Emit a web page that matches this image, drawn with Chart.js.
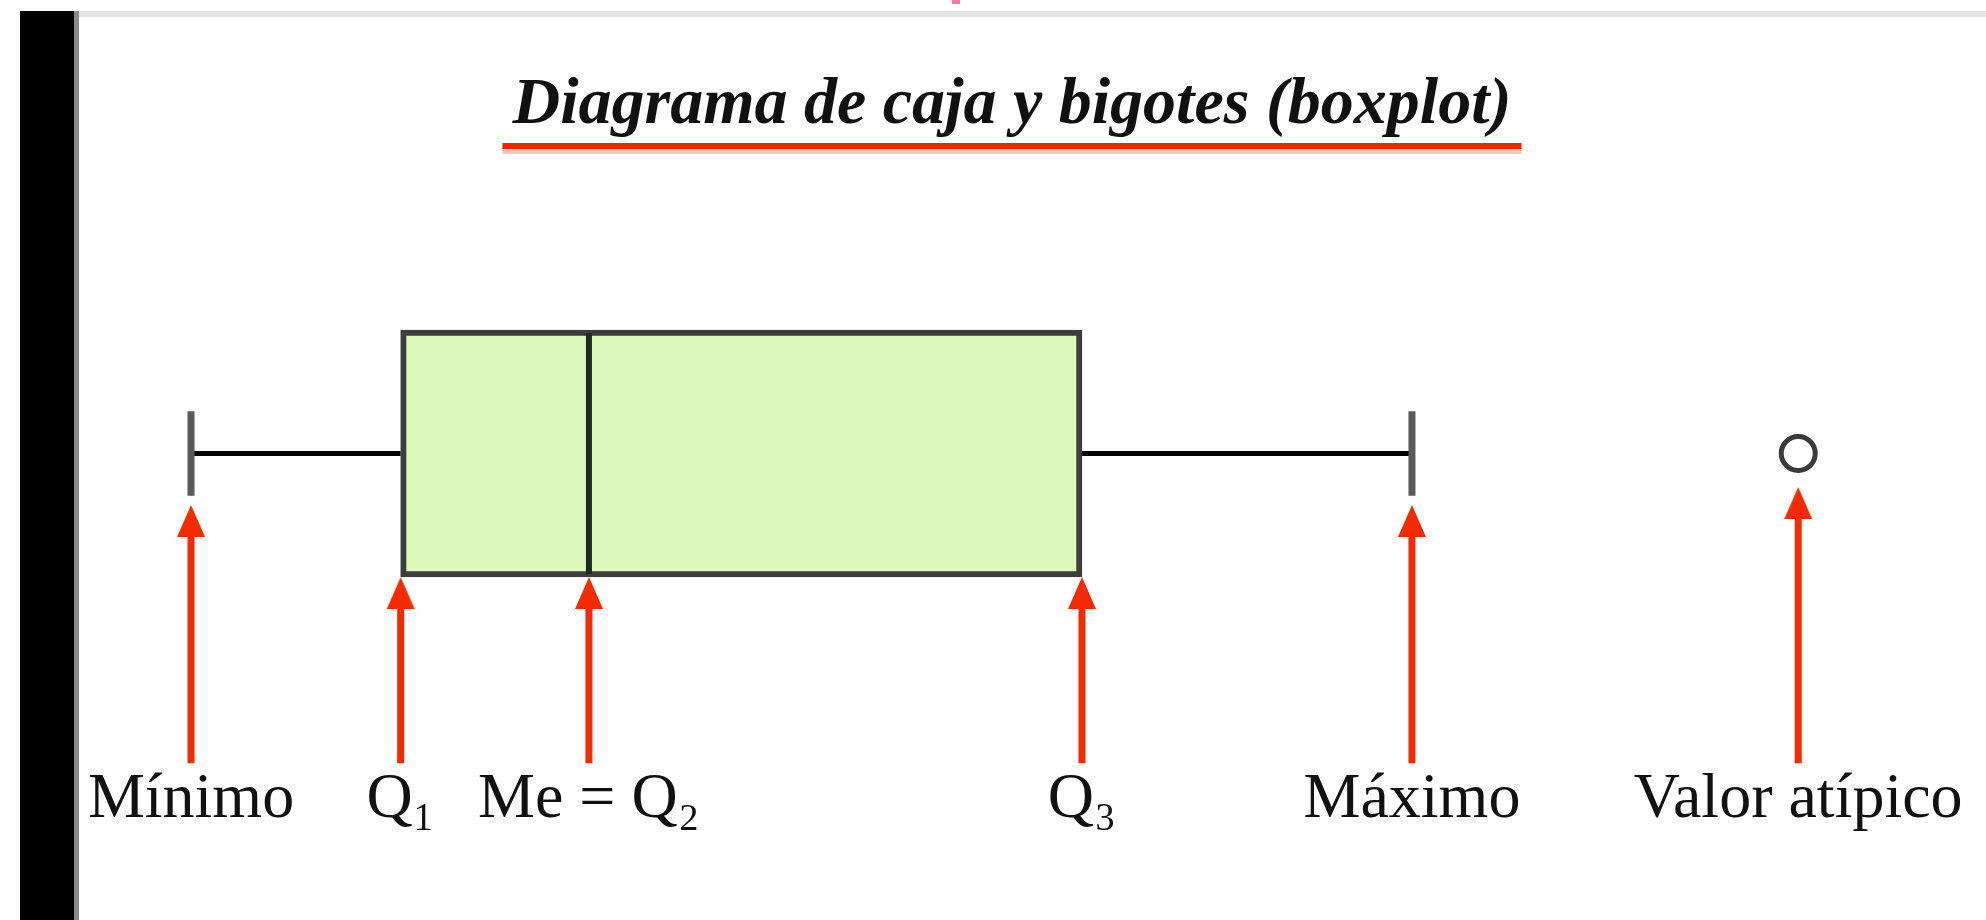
<!DOCTYPE html>
<html>
<head>
<meta charset="utf-8">
<script src="https://cdn.jsdelivr.net/npm/chart.js@4/dist/chart.umd.min.js"></script>
<style>
html,body{margin:0;padding:0;background:#fff;}
#wrap{position:relative;width:1986px;height:920px;overflow:hidden;background:#fff;}
#chart{position:absolute;left:0;top:0;}
.frameL{position:absolute;left:20px;top:11px;width:54px;height:909px;background:#000;}
.frameG{position:absolute;left:74px;top:11px;width:5px;height:909px;background:#8a8a8a;}
.frameT{position:absolute;left:79px;top:11px;right:0;height:6px;background:#e3e3e3;}
.pink{position:absolute;left:952px;top:0;width:8px;height:4px;background:#f07aa0;}
</style>
</head>
<body>
<div id="wrap">
  <canvas id="chart" width="1986" height="920"></canvas>
  <div class="frameL"></div>
  <div class="frameG"></div>
  <div class="frameT"></div>
  <div class="pink"></div>
</div>
<script>
// ---- data ----
const titleText = 'Diagrama de caja y bigotes (boxplot)';
const tickLabels = ['Mínimo', 'Q₁', 'Me = Q₂', 'Q₃', 'Máximo', 'Valor atípico'];
const summaryValues = [5.1, 15.9, 25.6, 51.0, 68.0]; // mínimo, Q1, mediana, Q3, máximo
const outlierValues = [87.9];

const [vMin, vQ1, vMe, vQ3, vMax] = summaryValues;
const markValues = summaryValues.concat(outlierValues);

// ---- vertical levels (axis units, box spans -1..1) ----
const CAP = 0.35;
const TIP_WHISKER = -0.427, TIP_BOX = -1.025, TIP_OUT = -0.278, ARROW_BASE = -2.57;
const tipLevels = [TIP_WHISKER, TIP_BOX, TIP_BOX, TIP_BOX, TIP_WHISKER, TIP_OUT];

const RED = '#f42a00';

function makeHead(w, h) {
  const c = document.createElement('canvas');
  c.width = w; c.height = 2 * h;
  const g = c.getContext('2d');
  g.fillStyle = RED;
  g.beginPath();
  g.moveTo(w / 2, h);
  g.lineTo(w, 2 * h);
  g.lineTo(0, 2 * h);
  g.closePath();
  g.fill();
  return c;
}
const head = makeHead(28, 32);

const shaftData = [];
markValues.forEach((v, i) => {
  shaftData.push({x: v, y: tipLevels[i] - 0.2});
  shaftData.push({x: v, y: ARROW_BASE});
  shaftData.push({x: v, y: null});
});
const headData = markValues.map((v, i) => ({x: v, y: tipLevels[i]}));

const lineBase = {type: 'line', showLine: true, fill: false, tension: 0, pointRadius: 0, spanGaps: false, clip: false, order: 0};

const underline = {
  id: 'underline',
  afterDraw(chart) {
    const tb = chart.titleBlock;
    const ctx = chart.ctx;
    ctx.save();
    ctx.font = 'italic bold 66px "Liberation Serif"';
    const w = ctx.measureText(titleText).width;
    const cx = (tb.left + tb.right) / 2;
    const mid = tb.top + 66.4 + 39.6;
    ctx.fillStyle = '#f22300';
    ctx.fillRect(cx - w / 2 - 10, mid + 37, w + 20, 6);
    ctx.fillStyle = '#f8c4bc';
    ctx.fillRect(cx - w / 2 - 10, mid + 43, w + 20, 5);
    ctx.restore();
  }
};

new Chart(document.getElementById('chart'), {
  type: 'scatter',
  data: {
    datasets: [
      {
        type: 'bar', indexAxis: 'y',
        data: [{x: [vQ1, vQ3], y: 0}],
        backgroundColor: '#dcf8bb', borderColor: '#3d3d3d', borderWidth: 6,
        borderSkipped: false, barThickness: 247, order: 10
      },
      Object.assign({}, lineBase, {
        data: [{x: vMin, y: 0}, {x: vQ1, y: 0}, {x: vMe, y: null}, {x: vQ3, y: 0}, {x: vMax, y: 0}],
        borderColor: '#000', borderWidth: 5, order: 11
      }),
      Object.assign({}, lineBase, {
        data: [{x: vMin, y: -CAP}, {x: vMin, y: CAP}, {x: vMin, y: null}, {x: vMax, y: -CAP}, {x: vMax, y: CAP}],
        borderColor: '#5a5a5a', borderWidth: 7
      }),
      Object.assign({}, lineBase, {
        data: [{x: vMe, y: -1.0}, {x: vMe, y: 1.0}],
        borderColor: '#1f2a1f', borderWidth: 6
      }),
      Object.assign({}, lineBase, {
        data: shaftData, borderColor: RED, borderWidth: 7
      }),
      {
        type: 'scatter', data: headData, pointStyle: head, pointRadius: 10,
        backgroundColor: RED, borderColor: RED, clip: false
      },
      {
        type: 'scatter', data: outlierValues.map(v => ({x: v, y: 0})),
        pointStyle: 'circle', pointRadius: 17, borderWidth: 5,
        borderColor: '#3a3a3a', backgroundColor: '#fff', clip: false
      }
    ]
  },
  options: {
    responsive: false,
    animation: false,
    events: [],
    layout: {padding: {left: 40, right: 2, top: 0, bottom: 81.6}},
    plugins: {
      legend: {display: false},
      tooltip: {enabled: false},
      title: {
        display: true, text: titleText, color: '#111',
        font: {family: '"Liberation Serif"', size: 66, style: 'italic', weight: 'bold', lineHeight: 1.2},
        padding: {top: 66.4, bottom: 54.4}
      }
    },
    scales: {
      x: {
        type: 'linear', min: -2.68, max: 96.44, offset: false,
        grid: {display: false, drawTicks: false},
        border: {display: false},
        afterBuildTicks: (scale) => { scale.ticks = markValues.map(v => ({value: v})); },
        ticks: {
          autoSkip: false, maxRotation: 0, minRotation: 0, padding: 0,
          color: '#111',
          font: {family: '"Liberation Serif"', size: 64, lineHeight: 1.2},
          callback: (value, index) => tickLabels[index]
        }
      },
      y: {
        type: 'linear', min: -2.557, max: 2.104, display: false, offset: false,
        grid: {offset: false}
      }
    }
  },
  plugins: [underline]
});
</script>
</body>
</html>
